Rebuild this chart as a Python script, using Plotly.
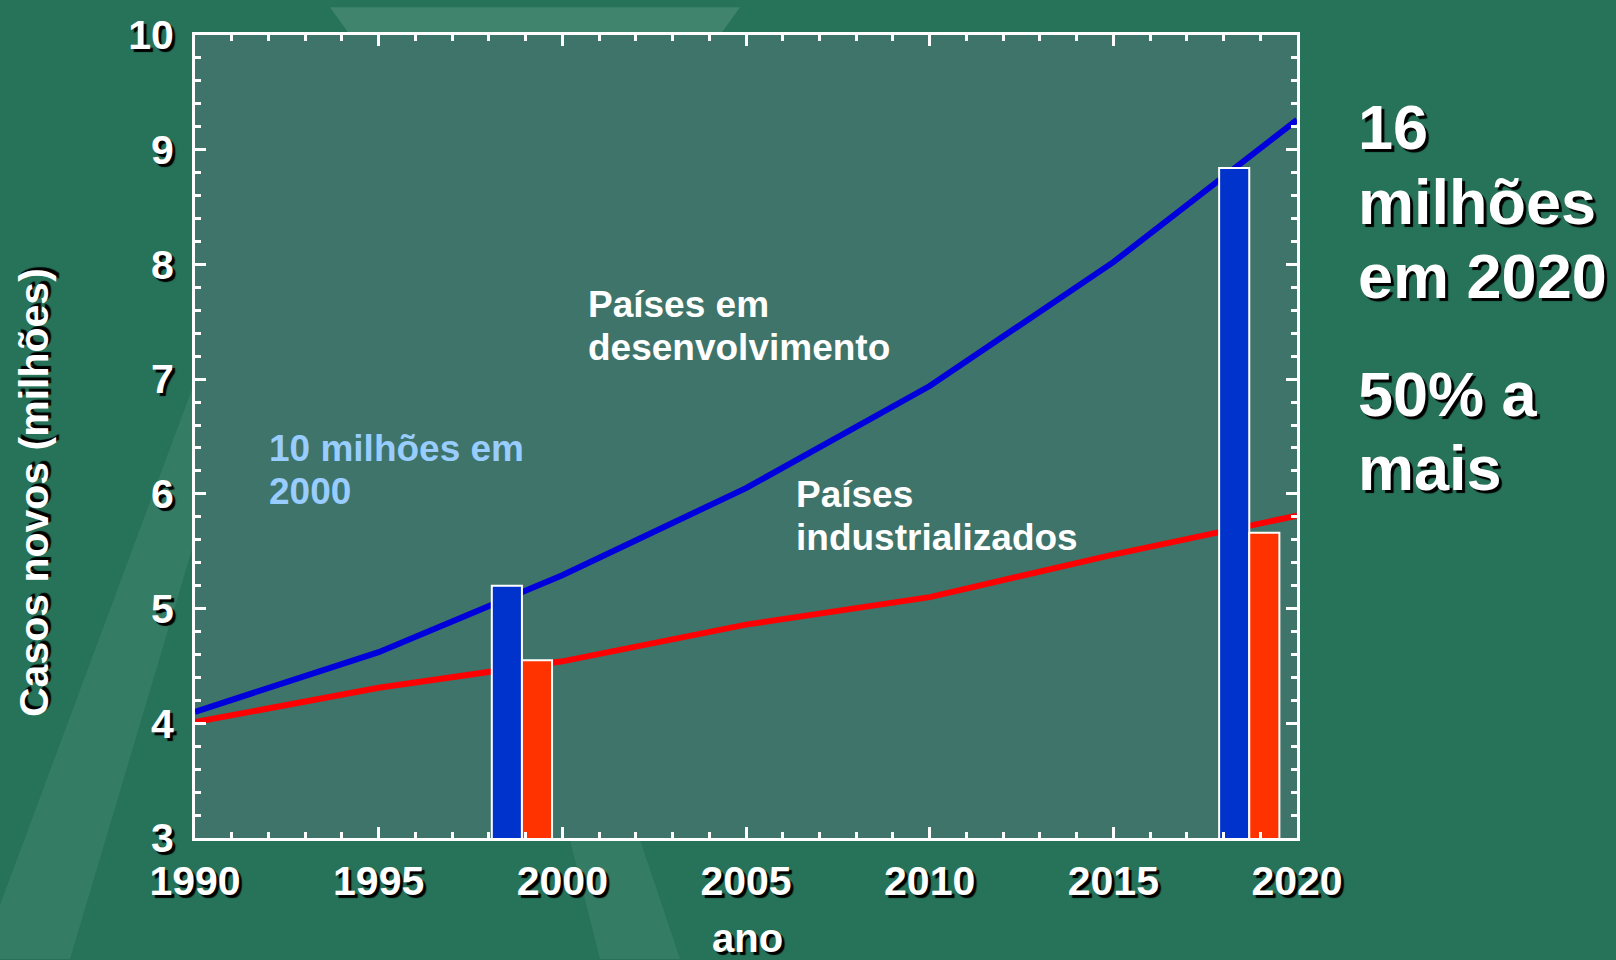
import plotly.graph_objects as go

# projected new cancer cases (millions)
years = [1990, 1995, 2000, 2005, 2010, 2015, 2020]
em_desenvolvimento = [4.10, 4.62, 5.29, 6.05, 6.94, 8.02, 9.26]
industrializados = [4.01, 4.31, 4.54, 4.86, 5.10, 5.47, 5.81]

# highlighted bars
bar_years = [1998.9, 2018.7]
bar_desenvolvimento = [5.20, 8.84]
bar_industrializados = [4.55, 5.66]

FONT = "Arial, Liberation Sans, sans-serif"
SHADOW = "3px 3px 1px #000000"
W, H = 1616, 960
L, R, T, B = 195, 1297, 28, 838


def px(x):
    return (x - L) / (R - L)


def py(y):
    return (B - y) / (B - T)


fig = go.Figure()

fig.add_trace(go.Scatter(
    x=years, y=em_desenvolvimento, mode='lines',
    line=dict(color='#0000DD', width=6),
    name='Países em desenvolvimento'
))
fig.add_trace(go.Scatter(
    x=years, y=industrializados, mode='lines',
    line=dict(color='#FF0000', width=6),
    name='Países industrializados'
))

# bars on an overlaid axis pair so they sit above the lines
fig.add_trace(go.Bar(
    x=bar_years, y=[v - 2.97 for v in bar_desenvolvimento], base=2.97,
    width=0.82, offset=-0.82,
    marker=dict(color='#0033CC', line=dict(color='white', width=2)),
    xaxis='x2', yaxis='y2'
))
fig.add_trace(go.Bar(
    x=bar_years, y=[v - 2.97 for v in bar_industrializados], base=2.97,
    width=0.82, offset=0,
    marker=dict(color='#FF3300', line=dict(color='white', width=2)),
    xaxis='x2', yaxis='y2'
))

tickfont = dict(family=FONT, size=41, color='white', weight='bold', shadow=SHADOW)
axis_common = dict(
    showgrid=False, zeroline=False, showline=True, linecolor='white', linewidth=3,
    mirror='ticks', ticks='inside', tickcolor='white', tickwidth=3, ticklen=11,
    tickfont=tickfont,
)

fig.update_layout(
    width=W, height=H,
    margin=dict(l=L, r=W - R, t=T, b=H - B),
    paper_bgcolor='#26735A',
    plot_bgcolor='#3E7469',
    showlegend=False,
    barmode='overlay',
    xaxis=dict(range=[1990, 2020], dtick=5, tick0=1990, ticklabelstandoff=5,
               minor=dict(dtick=1, ticks='inside', ticklen=6, tickcolor='white', tickwidth=3),
               **axis_common),
    yaxis=dict(range=[3, 10], dtick=1, ticklabelstandoff=10,
               minor=dict(dtick=0.2, ticks='inside', ticklen=6, tickcolor='white', tickwidth=3),
               **axis_common),
    xaxis2=dict(range=[1990, 2020], overlaying='x', visible=False),
    yaxis2=dict(range=[3, 10], overlaying='y', visible=False),
)

# soft light streaks in the slide background
streaks = [
    ("M %f,%f L %f,%f L %f,%f L %f,%f Z" % (px(-20), py(960), px(70), py(960), px(194), py(540), px(194), py(380)), 0.07),
    ("M %f,%f L %f,%f L %f,%f L %f,%f Z" % (px(330), py(0), px(740), py(0), px(720), py(28), px(350), py(28)), 0.12),
    ("M %f,%f L %f,%f L %f,%f L %f,%f Z" % (px(570), py(840), px(640), py(840), px(680), py(960), px(600), py(960)), 0.07),
]
for path, op in streaks:
    fig.add_shape(type='path', path=path, xref='paper', yref='paper',
                  fillcolor='white', opacity=op, line=dict(width=0), layer='below')


def label(text, x, y, size, color='white', shadow=None, angle=0, xanchor='left'):
    f = dict(family=FONT, size=size, color=color, weight='bold')
    if shadow:
        f['shadow'] = shadow
    fig.add_annotation(text=text, x=px(x), y=py(y), xref='paper', yref='paper',
                       xanchor=xanchor, yanchor='middle', showarrow=False,
                       textangle=angle, font=f)


label('Países em', 586, 300, 37)
label('desenvolvimento', 586, 343, 37)
label('10 milhões em', 267, 445, 37, color='#99CCFF')
label('2000', 267, 488, 37, color='#99CCFF')
label('Países', 794, 492, 37)
label('industrializados', 794, 535, 37)

label('16', 1356, 121, 63, shadow=SHADOW)
label('milhões', 1356, 196, 63, shadow=SHADOW)
label('em 2020', 1356, 271, 63, shadow=SHADOW)
label('50% a', 1356, 390, 63, shadow=SHADOW)
label('mais', 1356, 465, 63, shadow=SHADOW)

label('Casos novos (milhões)', 34, 489, 41, shadow=SHADOW, angle=-90, xanchor='center')
label('ano', 747, 939, 40, shadow=SHADOW, xanchor='center')

fig.write_html("out.html", config={'displayModeBar': False},
               post_script="document.body.style.margin='0';document.body.style.overflow='hidden';")
